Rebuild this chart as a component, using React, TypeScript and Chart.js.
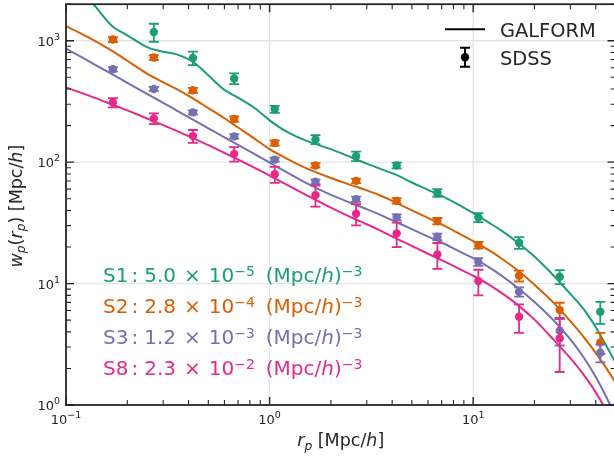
import React, { useEffect, useRef } from "react";
import { Chart, registerables } from "chart.js";

Chart.register(...registerables);

const W = 620;
const H = 460;

// Plot frame (pixels) and axis ranges
const AREA = { left: 66, top: 4, right: 615.5, bottom: 405 };
const X_MIN = 0.1;
const X_MAX = 50;
const Y_MIN = 1;
const Y_MAX = 2000;

// SDSS projected separation bins [Mpc/h]
const rpBins = [0.17, 0.27, 0.42, 0.67, 1.06, 1.68, 2.66, 4.21, 6.67, 10.6, 16.8, 26.6, 42.1];

// SDSS w_p(r_p) measurements and 1-sigma errors
const sdssS1 = [null, 1181, 722, 489, 273, 154, 112, 94, 55.9, 35.1, 21.7, 11.4, 5.86];
const errS1 = [null, 200, 93, 50, 18, 13, 10, 5, 4, 3, 2.4, 1.5, 1.2];
const sdssS2 = [1023, 727, 391, 227, 144, 94, 70.1, 48, 32.7, 20.7, 11.6, 6.05, 3.28];
const errS2 = [46, 34, 18, 11, 7, 4, 3, 2.5, 2, 1.3, 1.2, 0.9, 0.65];
const sdssS3 = [582, 401, 257, 163, 105, 68.9, 49.6, 35.1, 24.3, 15.1, 8.56, 4.09, 2.69];
const errS3 = [25, 15, 10, 7, 4, 3, 2.5, 2, 1.5, 1.1, 0.75, 1.0, 0.45];
const sdssS8 = [310, 229, 164, 117, 79.6, 53.5, 37.6, 25.9, 17.4, 10.5, 5.33, 3.54, null];
const errS8 = [27, 23, 20, 16, 12, 10.5, 7.4, 5.9, 4.2, 2.5, 1.4, 1.67, null];

// GALFORM model separations [Mpc/h]
const rModel = [
  0.1, 0.12, 0.14, 0.17, 0.2, 0.25, 0.3, 0.35, 0.42, 0.5, 0.6, 0.7, 0.85, 1.0, 1.2, 1.5, 2, 2.5,
  3, 3.5, 4.2, 5, 6, 7, 8.5, 10, 12, 14, 17, 20, 25, 30, 35, 40, 45, 50,
];
// GALFORM w_p(r_p) predictions
const galS1 = [
  3800, 2630, 1900, 1306, 1109, 887, 813, 773, 671, 519, 394, 340, 277, 221, 180, 151, 128, 110,
  97.2, 88.1, 78.5, 68, 59.2, 52.7, 44.5, 38.0, 31.6, 26.8, 21.0, 16.7, 11.5, 8.22, 6.1, 4.37, 3.09, 2.24,
];
const galS2 = [
  1318, 1135, 989, 817, 684, 537, 455, 399, 335, 279, 230, 193, 155, 128, 108, 89.7, 74.1, 65.0,
  58.6, 53.1, 46.2, 40.1, 34.8, 30.7, 25.9, 22.4, 18.8, 15.8, 12.4, 9.77, 6.87, 4.9, 3.61, 2.69, 2.02, 1.53,
];
const galS3 = [
  863, 728, 630, 525, 450, 365, 308, 266, 224, 190, 160, 139, 116, 99, 83.6, 67.8, 53.8, 46.3,
  41.0, 36.8, 32.0, 28.1, 24.4, 21.8, 18.5, 16.2, 13.6, 11.4, 8.89, 7.05, 4.92, 3.47, 2.45, 1.7, 1.17, 0.81,
];
const galS8 = [
  412, 370, 337, 297, 267, 229, 202, 181, 158, 138, 119.4, 105.2, 89.3, 77.6, 65.8, 54.0, 42.2, 35.3,
  30.8, 27.3, 23.5, 20.4, 17.6, 15.6, 13.3, 11.6, 9.77, 8.22, 6.43, 5.05, 3.41, 2.43, 1.76, 1.27, 0.9, 0.63,
];

// Sample labels, number densities and colours
const sampleNames = ["S1", "S2", "S3", "S8"];
const densityMantissa = ["5.0", "2.8", "1.2", "2.3"];
const densityExponent = ["−5", "−4", "−3", "−2"];
const sampleColors = ["#1b9e77", "#d95f02", "#7570b3", "#e7298a"];

const modelSeries = [galS1, galS2, galS3, galS8];
const obsSeries = [sdssS1, sdssS2, sdssS3, sdssS8];
const errSeries = [errS1, errS2, errS3, errS8];

const FONT = '"DejaVu Sans", sans-serif';
const INK = "#262626";

type Part = { t: string; size: number; italic?: boolean; rise?: number; gap?: number };

function partFont(p: Part) {
  return `${p.italic ? "italic " : ""}${p.size}px ${FONT}`;
}

function richWidth(ctx: CanvasRenderingContext2D, parts: Part[]) {
  let w = 0;
  for (const p of parts) {
    ctx.font = partFont(p);
    w += (p.gap || 0) + ctx.measureText(p.t).width;
  }
  return w;
}

function drawRich(
  ctx: CanvasRenderingContext2D,
  parts: Part[],
  x: number,
  y: number,
  align: "left" | "center" | "right",
  color: string
) {
  const w = richWidth(ctx, parts);
  let cx = align === "left" ? x : align === "center" ? x - w / 2 : x - w;
  ctx.textAlign = "left";
  ctx.textBaseline = "alphabetic";
  ctx.fillStyle = color;
  for (const p of parts) {
    cx += p.gap || 0;
    ctx.font = partFont(p);
    ctx.fillText(p.t, cx, y - (p.rise || 0));
    cx += ctx.measureText(p.t).width;
  }
}

function logTicks(min: number, max: number) {
  const out: { v: number; major: boolean }[] = [];
  const e0 = Math.floor(Math.log10(min));
  const e1 = Math.ceil(Math.log10(max));
  for (let e = e0; e <= e1; e++) {
    for (let k = 1; k <= 9; k++) {
      const v = k * Math.pow(10, e);
      if (v >= min * (1 - 1e-9) && v <= max * (1 + 1e-9)) out.push({ v, major: k === 1 });
    }
  }
  return out;
}

function powerLabel(v: number): Part[] {
  const e = Math.round(Math.log10(v));
  const exp = e < 0 ? "−" + String(-e) : String(e);
  return [
    { t: "10", size: 13 },
    { t: exp, size: 9.5, rise: 6 },
  ];
}

const decorPlugin = {
  id: "decor",
  beforeDatasetsDraw(chart: any) {
    const { ctx, chartArea: a, scales } = chart;
    ctx.save();
    ctx.strokeStyle = "#e5e5e5";
    ctx.lineWidth = 1.3;
    for (const t of logTicks(X_MIN, X_MAX)) {
      if (!t.major) continue;
      const px = scales.x.getPixelForValue(t.v);
      if (px <= a.left + 1 || px >= a.right - 1) continue;
      ctx.beginPath();
      ctx.moveTo(px, a.top);
      ctx.lineTo(px, a.bottom);
      ctx.stroke();
    }
    for (const t of logTicks(Y_MIN, Y_MAX)) {
      if (!t.major) continue;
      const py = scales.y.getPixelForValue(t.v);
      if (py <= a.top + 1 || py >= a.bottom - 1) continue;
      ctx.beginPath();
      ctx.moveTo(a.left, py);
      ctx.lineTo(a.right, py);
      ctx.stroke();
    }
    ctx.restore();
  },
  beforeDatasetDraw(chart: any, args: any) {
    const ds = chart.data.datasets[args.index];
    if (!ds.withErrors) return;
    const { ctx, chartArea: a, scales } = chart;
    ctx.save();
    ctx.beginPath();
    ctx.rect(a.left, a.top, a.right - a.left, a.bottom - a.top);
    ctx.clip();
    ctx.strokeStyle = ds.pointBackgroundColor;
    ctx.lineWidth = 1.8;
    for (const d of ds.data) {
      if (d.err == null) continue;
      const px = scales.x.getPixelForValue(d.x);
      const yHi = scales.y.getPixelForValue(d.y + d.err);
      const yLo = scales.y.getPixelForValue(Math.max(d.y - d.err, 1e-3));
      ctx.beginPath();
      ctx.moveTo(px, yHi);
      ctx.lineTo(px, yLo);
      ctx.moveTo(px - 5, yHi);
      ctx.lineTo(px + 5, yHi);
      ctx.moveTo(px - 5, yLo);
      ctx.lineTo(px + 5, yLo);
      ctx.stroke();
    }
    ctx.restore();
  },
  afterDatasetsDraw(chart: any) {
    const { ctx, chartArea: a, scales } = chart;
    ctx.save();

    // frame
    ctx.strokeStyle = INK;
    ctx.lineWidth = 1.8;
    ctx.strokeRect(a.left, a.top, a.right - a.left, a.bottom - a.top);

    // inward ticks on all four sides
    for (const t of logTicks(X_MIN, X_MAX)) {
      const px = scales.x.getPixelForValue(t.v);
      const len = t.major ? 8 : 5;
      ctx.lineWidth = t.major ? 1.4 : 1.1;
      ctx.beginPath();
      ctx.moveTo(px, a.bottom);
      ctx.lineTo(px, a.bottom - len);
      ctx.moveTo(px, a.top);
      ctx.lineTo(px, a.top + len);
      ctx.stroke();
      if (t.major) drawRich(ctx, powerLabel(t.v), px, a.bottom + 18.5, "center", INK);
    }
    for (const t of logTicks(Y_MIN, Y_MAX)) {
      const py = scales.y.getPixelForValue(t.v);
      const len = t.major ? 8 : 5;
      ctx.lineWidth = t.major ? 1.4 : 1.1;
      ctx.beginPath();
      ctx.moveTo(a.left, py);
      ctx.lineTo(a.left + len, py);
      ctx.moveTo(a.right, py);
      ctx.lineTo(a.right - len, py);
      ctx.stroke();
      if (t.major) drawRich(ctx, powerLabel(t.v), a.left - 6, py + 5, "right", INK);
    }

    // axis titles
    const ls = 17.5;
    const sub = ls * 0.7;
    drawRich(
      ctx,
      [
        { t: "r", size: ls, italic: true },
        { t: "p", size: sub, italic: true, rise: -3.5 },
        { t: " [Mpc/", size: ls },
        { t: "h", size: ls, italic: true },
        { t: "]", size: ls },
      ],
      (a.left + a.right) / 2,
      446,
      "center",
      INK
    );
    ctx.save();
    ctx.translate(21.5, (a.top + a.bottom) / 2 + 1.5);
    ctx.rotate(-Math.PI / 2);
    drawRich(
      ctx,
      [
        { t: "w", size: ls, italic: true },
        { t: "p", size: sub, italic: true, rise: -3.5 },
        { t: "(", size: ls },
        { t: "r", size: ls, italic: true },
        { t: "p", size: sub, italic: true, rise: -3.5 },
        { t: ")", size: ls },
        { t: " [Mpc/", size: ls },
        { t: "h", size: ls, italic: true },
        { t: "]", size: ls },
      ],
      0,
      0,
      "center",
      INK
    );
    ctx.restore();

    // legend
    ctx.strokeStyle = "#000";
    ctx.fillStyle = "#000";
    ctx.lineWidth = 2;
    ctx.beginPath();
    ctx.moveTo(445, 29.3);
    ctx.lineTo(485, 29.3);
    ctx.stroke();
    ctx.beginPath();
    ctx.moveTo(465, 47.7);
    ctx.lineTo(465, 66.7);
    ctx.moveTo(460, 47.7);
    ctx.lineTo(470, 47.7);
    ctx.moveTo(460, 66.7);
    ctx.lineTo(470, 66.7);
    ctx.stroke();
    ctx.beginPath();
    ctx.arc(465, 57.3, 4.2, 0, Math.PI * 2);
    ctx.fill();
    drawRich(ctx, [{ t: "GALFORM", size: 19.4 }], 500, 36.5, "left", INK);
    drawRich(ctx, [{ t: "SDSS", size: 19.4 }], 500, 64.5, "left", INK);

    // sample number densities
    const fs = 20;
    const ss = 14;
    sampleNames.forEach((name, i) => {
      drawRich(
        ctx,
        [
          { t: name, size: fs },
          { t: ":", size: fs, gap: 3 },
          { t: densityMantissa[i], size: fs, gap: 6 },
          { t: "×", size: fs, gap: 8 },
          { t: "10", size: fs, gap: 8 },
          { t: densityExponent[i], size: ss, rise: 6.5 },
          { t: "(Mpc/", size: fs, gap: 11 },
          { t: "h", size: fs, italic: true },
          { t: ")", size: fs },
          { t: "−3", size: ss, rise: 6.5 },
        ],
        103,
        282 + i * 31,
        "left",
        sampleColors[i]
      );
    });

    ctx.restore();
  },
};

function buildDatasets() {
  const list: any[] = [];
  sampleNames.forEach((name, i) => {
    const color = sampleColors[i];
    list.push({
      label: `GALFORM ${name}`,
      data: rModel.map((x, j) => ({ x, y: modelSeries[i][j] })),
      borderColor: color,
      borderWidth: 2,
      pointRadius: 0,
      fill: false,
      cubicInterpolationMode: "monotone",
    });
    const pts: any[] = [];
    rpBins.forEach((x, j) => {
      const y = obsSeries[i][j];
      if (y == null) return;
      pts.push({ x, y, err: errSeries[i][j] });
    });
    list.push({
      label: `SDSS ${name}`,
      data: pts,
      showLine: false,
      pointRadius: 4.2,
      pointBackgroundColor: color,
      pointBorderWidth: 0,
      borderColor: color,
      withErrors: true,
    });
  });
  // later entries drawn on top
  list.forEach((d, k) => (d.order = list.length - k));
  return list;
}

export default function App() {
  const ref = useRef<HTMLCanvasElement>(null);

  useEffect(() => {
    document.body.style.margin = "0";
    document.body.style.overflow = "hidden";
    const canvas = ref.current;
    if (!canvas) return;
    const chart = new Chart(canvas, {
      type: "line",
      data: { datasets: buildDatasets() },
      options: {
        responsive: false,
        animation: false,
        events: [],
        layout: {
          padding: {
            left: AREA.left,
            top: AREA.top,
            right: W - AREA.right,
            bottom: H - AREA.bottom,
          },
        },
        scales: {
          x: { type: "logarithmic", min: X_MIN, max: X_MAX, display: false },
          y: { type: "logarithmic", min: Y_MIN, max: Y_MAX, display: false },
        },
        plugins: {
          legend: { display: false },
          tooltip: { enabled: false },
        },
      } as any,
      plugins: [decorPlugin],
    });
    return () => chart.destroy();
  }, []);

  return (
    <div style={{ position: "fixed", left: 0, top: 0, width: W, height: H, background: "#fff" }}>
      <canvas ref={ref} width={W} height={H} style={{ width: W, height: H, display: "block" }} />
    </div>
  );
}
